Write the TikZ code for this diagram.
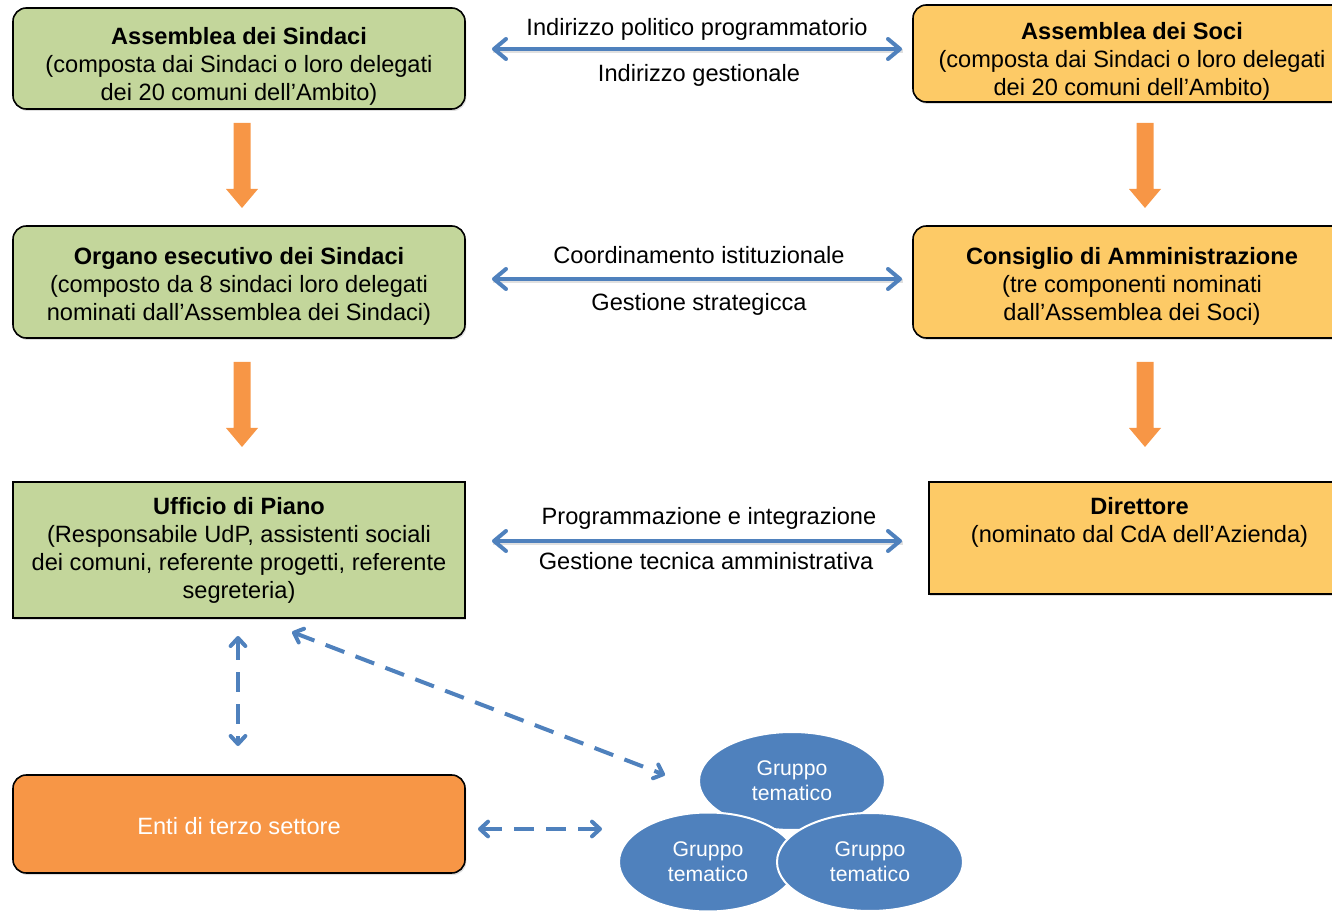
\documentclass[tikz,border=0pt]{standalone}
\usepackage{fontspec}
\setmainfont{Liberation Sans}
\usetikzlibrary{arrows.meta,shadows,shapes.geometric,calc}
\definecolor{boxgreen}{HTML}{C3D69B}
\definecolor{boxyellow}{HTML}{FDCA66}
\definecolor{accorange}{HTML}{F79646}
\definecolor{accblue}{HTML}{4F81BD}
\newcommand\orgarrow[1]{\fill[accorange] (#1) ++(-8.5,0) -- ++(17,0) -- ++(0,66) -- ++(7.5,0) -- ++(-16,19) -- ++(-16,-19) -- ++(7.5,0) -- cycle;}
\begin{document}
\begin{tikzpicture}[x=0.75pt,y=-0.75pt,
  every node/.style={font=\fontsize{17.7}{21}\selectfont, align=center, inner sep=0pt},
  boxbase/.style={draw=black, line width=1.2pt, drop shadow={opacity=0.25, shadow xshift=1pt, shadow yshift=-1.5pt}},
  roundgreen/.style={boxbase, fill=boxgreen, rounded corners=10pt},
  roundyellow/.style={boxbase, fill=boxyellow, rounded corners=10pt},
  squaregreen/.style={boxbase, fill=boxgreen},
  squareyellow/.style={boxbase, fill=boxyellow},
  roundorange/.style={boxbase, fill=accorange, rounded corners=10pt},
  gruppo/.style={ellipse, fill=accblue, draw=white, line width=1.5pt, text=white, font=\fontsize{15.9}{18.75}\selectfont},
  lbl/.style={anchor=base},
  arrowshadow/.style={draw=black, opacity=0.12, line width=3pt},
  bluearrow/.style={draw=accblue, line width=3pt, {Straight Barb[length=9pt,width=15pt,line join=round,line cap=round]}-{Straight Barb[length=9pt,width=15pt,line join=round,line cap=round]}},
  dasharrow/.style={draw=accblue, line width=3pt, dash pattern=on 15pt off 9pt, {Straight Barb[length=6pt,width=11pt,line join=round,line cap=round]}-{Straight Barb[length=6pt,width=11pt,line join=round,line cap=round]}}
]
\useasboundingbox (0,0) rectangle (1332,912);

% boxes
\node[roundgreen, minimum width=339pt, minimum height=75.75pt] (asind) at (239,58.5) {};
\node (asindT) at (239,66.5)
  {\textbf{Assemblea dei Sindaci}\\(composta dai Sindaci o loro delegati\\dei 20 comuni dell’Ambito)};
\node[roundyellow, minimum width=328.5pt, minimum height=72.75pt] (asoci) at (1132,53.5) {};
\node (asociT) at (1132,61.5)
  {\textbf{Assemblea dei Soci}\\(composta dai Sindaci o loro delegati\\dei 20 comuni dell’Ambito)};
\node[roundgreen, minimum width=339pt, minimum height=84pt] (organo) at (239,282) {};
\node (organoT) at (239,286)
  {\textbf{Organo esecutivo dei Sindaci}\\(composto da 8 sindaci loro delegati\\nominati dall’Assemblea dei Sindaci)};
\node[roundyellow, minimum width=328.5pt, minimum height=84pt] (cda) at (1132,282) {};
\node (cdaT) at (1132,286)
  {\textbf{Consiglio di Amministrazione}\\(tre componenti nominati\\dall’Assemblea dei Soci)};
\node[squaregreen, minimum width=339pt, minimum height=102pt] (udp) at (239,550)
  {\textbf{Ufficio di Piano}\\(Responsabile UdP, assistenti sociali\\dei comuni, referente progetti, referente\\segreteria)};
\node[squareyellow, minimum width=315.75pt, minimum height=84pt] (dir) at (1139.5,538) {};
\node[anchor=north] (dirT) at (1139.5,497)
  {\textbf{Direttore}\\(nominato dal CdA dell’Azienda)};
\node[roundorange, minimum width=339pt, minimum height=73.5pt] (enti) at (239,824) {};
\node[text=white] (entiT) at (239,826.5) {Enti di terzo settore};

% ellipses
\node[gruppo, minimum width=139.5pt, minimum height=73.5pt] (g1) at (792,781) {Gruppo\\tematico};
\node[gruppo, minimum width=133.5pt, minimum height=74.25pt] (g2) at (708,862) {Gruppo\\tematico};
\node[gruppo, minimum width=139.5pt, minimum height=73.5pt] (g3) at (870,862) {Gruppo\\tematico};

% orange block arrows
\coordinate (oa1) at (242,123);
\coordinate (oa2) at (242,362);
\coordinate (oa3) at (1145,123);
\coordinate (oa4) at (1145,362);
\orgarrow{oa1}
\orgarrow{oa2}
\orgarrow{oa3}
\orgarrow{oa4}

% blue double arrows
\coordinate (l1) at (492,49);  \coordinate (r1) at (902,49);
\coordinate (l2) at (492,279); \coordinate (r2) at (902,279);
\coordinate (l3) at (492,541); \coordinate (r3) at (902,541);
\foreach \a/\b in {l1/r1,l2/r2,l3/r3}{
  \draw[arrowshadow] ([shift={(1,2.5)}]\a) -- ([shift={(1,2.5)}]\b);
  \draw[bluearrow] (\a) -- (\b);
}
\node[lbl] (t1a) at (697,36) {Indirizzo politico programmatorio};
\node[lbl] (t1b) at (699,82) {Indirizzo gestionale};
\node[lbl] (t2a) at (699,264) {Coordinamento istituzionale};
\node[lbl] (t2b) at (699,311) {Gestione strategicca};
\node[lbl] (t3a) at (709,525) {Programmazione e integrazione};
\node[lbl] (t3b) at (706,570) {Gestione tecnica amministrativa};

% dashed arrows
\coordinate (d1a) at (238,636); \coordinate (d1b) at (238,746);
\coordinate (d2a) at (292,632); \coordinate (d2b) at (665,775);
\coordinate (d3a) at (478,829); \coordinate (d3b) at (602,829);
\draw[dasharrow] (d1a) -- (d1b);
\draw[dasharrow] (d2a) -- (d2b);
\draw[dasharrow] (d3a) -- (d3b);
\end{tikzpicture}
\end{document}
